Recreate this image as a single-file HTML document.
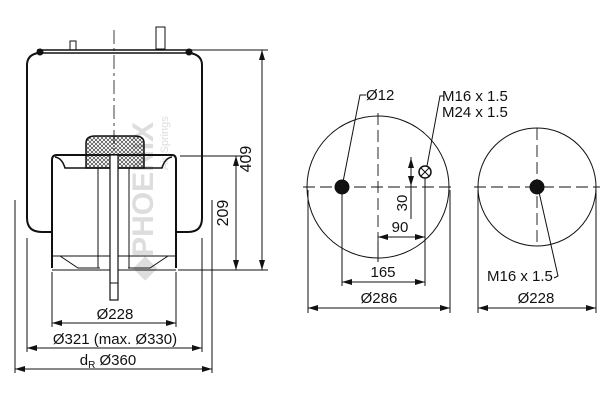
<!DOCTYPE html>
<html><head><style>body{margin:0;background:#fff}svg{display:block}text{font-family:"Liberation Sans",sans-serif;fill:#111}</style></head><body>
<svg width="600" height="400" viewBox="0 0 600 400" xmlns="http://www.w3.org/2000/svg">
<defs>
<marker id="a" viewBox="0 0 10 6" refX="10" refY="3" markerWidth="10" markerHeight="6" orient="auto-start-reverse" markerUnits="userSpaceOnUse"><path d="M0,0 L10,3 L0,6z" fill="#111"/></marker>
<pattern id="h" width="4" height="4" patternUnits="userSpaceOnUse"><path d="M0,0L4,4M4,0L0,4" stroke="#222" stroke-width="0.6"/></pattern>
</defs>
<g stroke="#111" fill="none" stroke-width="1">
<text x="0" y="0" transform="translate(153,280) rotate(-90)" font-size="30" font-weight="bold" style="fill:#ddd" stroke="none">◆PHOENIX</text>
<text x="0" y="0" transform="translate(168,170) rotate(-90)" font-size="11" style="fill:#ddd" stroke="none">Air Springs</text>
<path d="M37,50 L192,50 M40,53 L189,53" stroke-width="1.5"/>
<circle cx="40" cy="52" r="3" fill="#111"/><circle cx="189" cy="52" r="3" fill="#111"/>
<rect x="70" y="41" width="6" height="9"/>
<rect x="156" y="27" width="9" height="22"/>
<path d="M38,53 Q27,55 27,65 L27,218 Q27,232 42,232 L52,232" stroke-width="2"/>
<path d="M190,53 Q202,55 202,65 L202,218 Q202,232 188,232 L176,232" stroke-width="2"/>
<path d="M52,268 L52,160 Q52,155 57,155 L172,155 Q176,155 176,160 L176,268" stroke-width="2"/>
<path d="M55,157 Q62,158 65,168 L162,168 Q165,158 172,157" stroke-width="1.5"/>
<path d="M52,256 L176,256 M52,270 L176,270" stroke-width="1"/>
<path d="M60,256 L78,268 L100,268 M168,256 L150,268 L128,268" stroke-width="1"/>
<path d="M98,168 L98,268 M129,168 L129,268"/>
<path d="M86,168 L86,143 Q86,136 95,136 L135,136 Q144,136 144,143 L144,168 Z" fill="url(#h)" stroke-width="1.5"/>
<rect x="110" y="155" width="8" height="145" fill="#fff" stroke-width="1.2"/>
<path d="M110,283 L118,283"/>
<path d="M114,30 L114,150" stroke-dasharray="14,4,3,4" stroke-width="0.8"/>
<path d="M166,50 L268,50 M178,270 L268,270 M180,156 L242,156"/>
<path d="M262,50 L262,270" marker-start="url(#a)" marker-end="url(#a)"/>
<path d="M236,156 L236,270" marker-start="url(#a)" marker-end="url(#a)"/>
<path d="M15,200 L15,373 M212,200 L212,373 M27,238 L27,352 M202,238 L202,352 M52,272 L52,327 M176,272 L176,327"/>
<path d="M52,323 L176,323" marker-start="url(#a)" marker-end="url(#a)"/>
<path d="M27,348 L202,348" marker-start="url(#a)" marker-end="url(#a)"/>
<path d="M15,369 L212,369" marker-start="url(#a)" marker-end="url(#a)"/>
<circle cx="378" cy="187" r="71"/>
<path d="M303,187 L455,187 M378,113 L378,262" stroke-dasharray="12,5" stroke-width="0.9"/>
<circle cx="342" cy="187" r="7" fill="#111"/>
<circle cx="425" cy="172" r="6" stroke-width="1.5"/><path d="M421,168 L429,176 M429,168 L421,176"/>
<circle cx="537" cy="187" r="59"/>
<path d="M474,187 L600,187 M537,128 L537,246" stroke-dasharray="12,5" stroke-width="0.9"/>
<circle cx="537" cy="187" r="7" fill="#111"/>
<path d="M308,190 L308,313 M450,190 L450,313 M342,190 L342,286 M425,178 L425,286 M378,262 L378,241 M478,190 L478,313 M596,190 L596,313"/>
<path d="M308,308 L450,308" marker-start="url(#a)" marker-end="url(#a)"/>
<path d="M342,282 L425,282" marker-start="url(#a)" marker-end="url(#a)"/>
<path d="M378,237 L425,237" marker-start="url(#a)" marker-end="url(#a)"/>
<path d="M478,308 L596,308" marker-start="url(#a)" marker-end="url(#a)"/>
<path d="M411,157 L411,219"/>
<path d="M411,172 L411,158" marker-end="url(#a)"/><path d="M411,172 L411,186" marker-end="url(#a)"/>
<path d="M366,95 L360,95 L343,182"/>
<path d="M444,96 L440,96 L427,166"/>
<path d="M539,192 L558,276 L554,278"/>
</g>
<g font-size="15">
<text x="251" y="159" transform="rotate(-90 251 159)" text-anchor="middle" font-size="16">409</text>
<text x="228" y="213" transform="rotate(-90 228 213)" text-anchor="middle" font-size="16">209</text>
<text x="115" y="319" text-anchor="middle">Ø228</text>
<text x="115" y="344" text-anchor="middle">Ø321 (max. Ø330)</text>
<text x="108" y="365" text-anchor="middle">d<tspan font-size="10" dy="3">R</tspan><tspan dy="-3"> Ø360</tspan></text>
<text x="366" y="100">Ø12</text>
<text x="442" y="101">M16 x 1.5</text>
<text x="442" y="117">M24 x 1.5</text>
<text x="407" y="203" transform="rotate(-90 407 203)" text-anchor="middle">30</text>
<text x="400" y="232" text-anchor="middle">90</text>
<text x="383" y="277" text-anchor="middle">165</text>
<text x="379" y="303" text-anchor="middle">Ø286</text>
<text x="487" y="281">M16 x 1.5</text>
<text x="536" y="303" text-anchor="middle">Ø228</text>
</g>
</svg>
</body></html>
